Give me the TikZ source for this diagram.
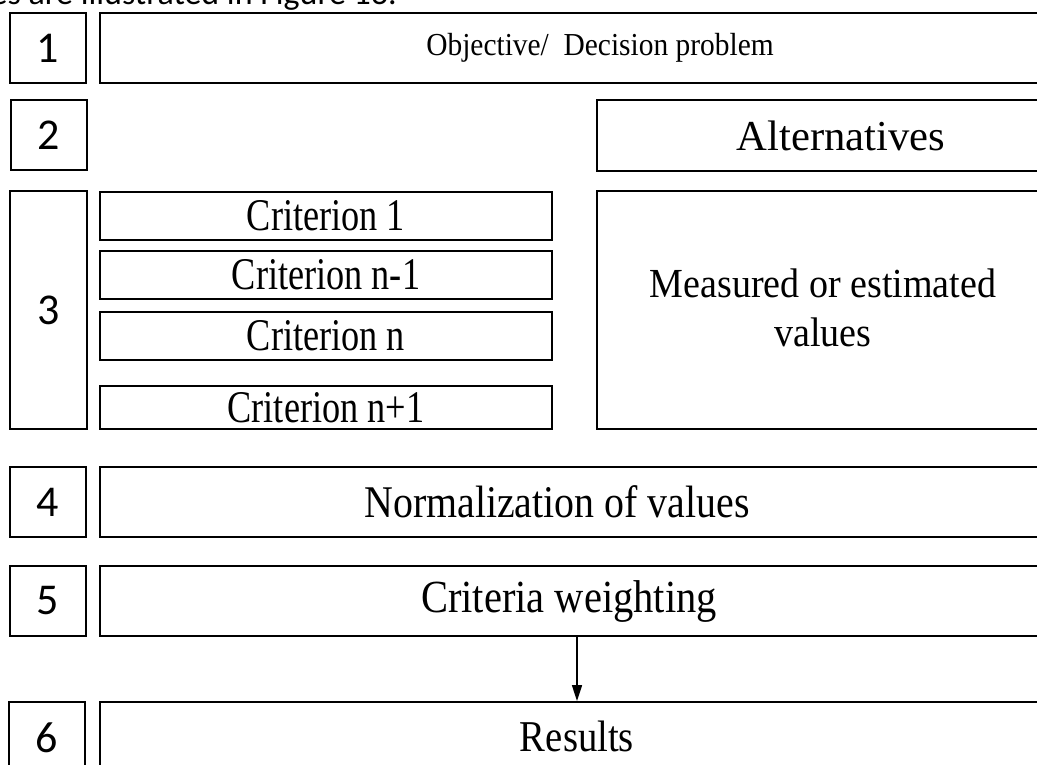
\documentclass[tikz,border=0pt]{standalone}
\usepackage{fontspec}
\setmainfont{Liberation Serif}
\newfontfamily\numfont{Carlito}
\newfontfamily\narrowserif[FakeStretch=0.88]{Liberation Serif}
\newfontfamily\tightserif[FakeStretch=0.8]{Liberation Serif}
\newfontfamily\slimserif[FakeStretch=0.92]{Liberation Serif}
\usetikzlibrary{fit,arrows.meta}
\begin{document}
\begin{tikzpicture}[x=0.75pt,y=-0.75pt,
  box/.style={draw=black, line width=1.4pt, inner sep=0pt, fill=white},
  lbl/.style={inner sep=0pt, anchor=center},
  numlbl/.style={lbl, font=\numfont\fontsize{33}{36}\selectfont},
  critlbl/.style={lbl, font=\tightserif\fontsize{34}{38}\selectfont},
  flow/.style={line width=1.1pt, -{Triangle[length=12pt,width=7.5pt]}}
]
\useasboundingbox (0,0) rectangle (1037,764);

% running text of the page above the chart
\node[inner sep=0pt, anchor=base east, font=\numfont\fontsize{25.5}{28}\selectfont]
  (pagetext) at (397,4) {ies are illustrated in Figure 13.};

% step number boxes
\node[box, fit={(10,13) (86,83)}]   (s1) {};
\node[box, fit={(11,100) (87,170)}] (s2) {};
\node[box, fit={(10,191) (87,429)}] (s3) {};
\node[box, fit={(10,467) (86,537)}] (s4) {};
\node[box, fit={(10,566) (86,636)}] (s5) {};
\node[box, fit={(9,702) (85,800)}]  (s6) {};

\node[numlbl] (n1) at (s1.center) {1};
\node[numlbl] (n2) at (s2.center) {2};
\node[numlbl] (n3) at (s3.center) {3};
\node[numlbl] (n4) at (s4.center) {4};
\node[numlbl] (n5) at (s5.center) {5};
\node[numlbl] (n6) at (47,738) {6};

% step contents (they run past the right edge)
\node[box, fit={(100,13) (1100,83)}]   (objective) {};
\node[box, fit={(597,100) (1100,171)}] (alternatives) {};
\node[box, fit={(597,191) (1100,429)}] (measured) {};
\node[box, fit={(100,467) (1100,537)}] (normalization) {};
\node[box, fit={(100,566) (1100,636)}] (weighting) {};
\node[box, fit={(100,702) (1054,820)}] (results) {};

% criteria
\node[box, fit={(100,192) (552,240)}] (c1) {};
\node[box, fit={(100,251) (552,299)}] (c2) {};
\node[box, fit={(100,312) (552,360)}] (c3) {};
\node[box, fit={(100,386) (552,429)}] (c4) {};
\node[critlbl] (c1t) at (c1.center) {Criterion 1};
\node[critlbl] (c2t) at (c2.center) {Criterion n-1};
\node[critlbl] (c3t) at (c3.center) {Criterion n};
\node[critlbl] (c4t) at (c4.center) {Criterion n+1};

\node[lbl, font=\slimserif\fontsize{24}{28}\selectfont] (objtext) at (600,48)
  {Objective/\ \ Decision problem};
\node[lbl, font=\fontsize{32}{36}\selectfont] (alttext) at (841,136) {Alternatives};
\node[lbl, align=center, font=\slimserif\fontsize{31}{37}\selectfont] (meastext) at (823,308)
  {Measured or estimated\\values};
\node[lbl, font=\narrowserif\fontsize{34}{36}\selectfont] (normtext) at (557,502)
  {Normalization of values};
\node[lbl, font=\narrowserif\fontsize{34.5}{36}\selectfont] (weighttext) at (569,601)
  {Criteria weighting};
\node[lbl, font=\narrowserif\fontsize{33}{36}\selectfont, anchor=base] (restext) at (577,751)
  {Results};

% the only connector
\draw[flow] (weighting.south -| restext) -- (results.north -| restext);
\end{tikzpicture}
\end{document}
